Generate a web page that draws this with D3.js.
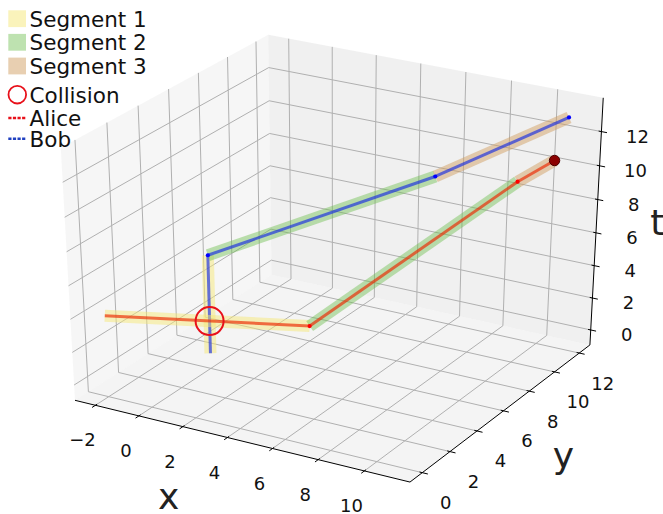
<!DOCTYPE html>
<html><head><meta charset="utf-8">
<script src="https://cdn.jsdelivr.net/npm/d3@7"></script>
<style>body{margin:0;background:#fff} svg{display:block}</style>
</head><body>
<svg id="chart" width="663" height="514"></svg>
<script>
// ---------------- data ----------------
const aliceX = [-2, 2, 10, 11];
const aliceY = [0, 8, 10, 11];
const aliceT = [4, 0, 10, 11];
const bobX = [0, 0, 7, 11];
const bobY = [4, 4, 9, 12];
const bobT = [0, 6, 10, 13];
const collisionX = [0];
const collisionY = [4];
const collisionT = [2];
const segmentNames = ["Segment 1", "Segment 2", "Segment 3"];
const segmentColors = ["rgba(245,232,120,0.5)", "rgba(110,190,80,0.45)", "rgba(210,160,100,0.5)"];
const xTicks = [-2, 0, 2, 4, 6, 8, 10];
const yTicks = [0, 2, 4, 6, 8, 10, 12];
const tTicks = [0, 2, 4, 6, 8, 10, 12];

// ---------------- scales ----------------
function lim(arr) { const [a, b] = d3.extent(arr); const m = (b - a) * 0.05; return [a - m, b + m]; }
const xLim = lim(aliceX.concat(bobX, collisionX));
const yLim = lim(aliceY.concat(bobY, collisionY));
const tLim = lim(aliceT.concat(bobT, collisionT));
const nx = d3.scaleLinear().domain(xLim).range([0, 1]);
const ny = d3.scaleLinear().domain(yLim).range([0, 1]);
const nt = d3.scaleLinear().domain(tLim).range([0, 1]);
const P0 = -1 / 48, P1 = 1 + 1 / 48;   // pane edges

const elev = 30, azim = -60, dist = 10;
const sx = d3.scaleLinear().domain([-0.095, 0.09]).range([-16.04, 670.68]);
const sy = d3.scaleLinear().domain([-0.095, 0.09]).range([513.46, 1.38]);

function dot3(a, b) { return a[0] * b[0] + a[1] * b[1] + a[2] * b[2]; }
function cross(a, b) { return [a[1] * b[2] - a[2] * b[1], a[2] * b[0] - a[0] * b[2], a[0] * b[1] - a[1] * b[0]]; }
function unit(a) { const l = Math.hypot(a[0], a[1], a[2]); return a.map(d => d / l); }
const er = elev * Math.PI / 180, ar = azim * Math.PI / 180;
const ps = [Math.cos(er) * Math.cos(ar), Math.cos(er) * Math.sin(ar), Math.sin(er)];
const Rc = [0.5, 0.5, 0.5];
const E = Rc.map((r, i) => r + dist * ps[i]);
const wv = unit(E.map((e, i) => e - Rc[i]));
const uv = unit(cross([0, 0, 1], wv));
const vv = cross(wv, uv);
function projN(P) {
  const d = P.map((p, i) => p - E[i]);
  const z = -dot3(wv, d);
  return [sx(dot3(uv, d) / z), sy(dot3(vv, d) / z)];
}
function proj(x, y, t) { return projN([nx(x), ny(y), nt(t)]); }

const svg = d3.select("#chart");
const line = d3.line();

// ---------------- panes ----------------
const panes = [
  { pts: [[P0, P0, P0], [P0, P1, P0], [P0, P1, P1], [P0, P0, P1]], fill: "rgba(238,238,238,0.55)" },
  { pts: [[P0, P1, P0], [P1, P1, P0], [P1, P1, P1], [P0, P1, P1]], fill: "rgba(228,228,228,0.55)" },
  { pts: [[P0, P0, P0], [P1, P0, P0], [P1, P1, P0], [P0, P1, P0]], fill: "rgba(234,234,234,0.5)" }
];
svg.append("g").selectAll("path").data(panes).join("path")
  .attr("d", d => line(d.pts.map(projN)) + "Z")
  .attr("fill", d => d.fill).attr("stroke", "none");

// ---------------- grid ----------------
const grid = [];
xTicks.forEach(x => { const a = nx(x); grid.push([[a, P0, P0], [a, P1, P0]], [[a, P1, P0], [a, P1, P1]]); });
yTicks.forEach(y => { const b = ny(y); grid.push([[P0, b, P0], [P1, b, P0]], [[P0, b, P0], [P0, b, P1]]); });
tTicks.forEach(t => { const c = nt(t); grid.push([[P0, P0, c], [P0, P1, c]], [[P0, P1, c], [P1, P1, c]]); });
svg.append("g").selectAll("path").data(grid).join("path")
  .attr("d", d => line(d.map(projN)))
  .attr("stroke", "#b0b0b0").attr("stroke-width", 1).attr("fill", "none");

// ---------------- axis lines & ticks ----------------
const axisLines = [
  [[P0, P0, P0], [P1, P0, P0]],
  [[P1, P0, P0], [P1, P1, P0]],
  [[P1, P1, P0], [P1, P1, P1]]
];
svg.append("g").selectAll("path").data(axisLines).join("path")
  .attr("d", d => line(d.map(projN)))
  .attr("stroke", "#000").attr("stroke-width", 1).attr("fill", "none");

const tin = 0.1 / 12, tout = 0.2 / 12;
const tickSegs = [];
xTicks.forEach(x => { const a = nx(x); tickSegs.push([[a, P0 + tin, P0], [a, P0 - tout, P0]]); });
yTicks.forEach(y => { const b = ny(y); tickSegs.push([[P1 - tin, b, P0], [P1 + tout, b, P0]]); });
tTicks.forEach(t => { const c = nt(t); tickSegs.push([[P1 - tin, P1, c], [P1 + tout, P1, c]]); });
svg.append("g").selectAll("path").data(tickSegs).join("path")
  .attr("d", d => line(d.map(projN)))
  .attr("stroke", "#000").attr("stroke-width", 1).attr("fill", "none");

const fmt = v => (v < 0 ? "\u2212" + Math.abs(v) : String(v));
const tickLabels = [];
xTicks.forEach(x => { const p = projN([nx(x), P0, P0]); tickLabels.push({ x: p[0] - 13, y: p[1] + 34.5, s: fmt(x) }); });
yTicks.forEach(y => { const p = projN([P1, ny(y), P0]); tickLabels.push({ x: p[0] + 23.5, y: p[1] + 30, s: fmt(y) }); });
tTicks.forEach(t => { const p = projN([P1, P1, nt(t)]); tickLabels.push({ x: p[0] + 36, y: p[1] + 4.5, s: fmt(t) }); });
svg.append("g").selectAll("text").data(tickLabels).join("text")
  .attr("x", d => d.x).attr("y", d => d.y)
  .attr("text-anchor", "middle").attr("dominant-baseline", "central")
  .attr("font-family", "DejaVu Sans").attr("font-size", 18).attr("fill", "#111")
  .text(d => d.s);

// axis labels
const xm = projN([0.5, P0, P0]), ym = projN([P1, 0.5, P0]), tm = projN([P1, P1, 0.5]);
const axisLabels = [
  { x: xm[0] - 70, y: xm[1] + 68.5, s: "x" },
  { x: ym[0] + 60, y: ym[1] + 57, s: "y" },
  { x: tm[0] + 61, y: tm[1] + 10, s: "t" }
];
svg.append("g").selectAll("text").data(axisLabels).join("text")
  .attr("x", d => d.x).attr("y", d => d.y).attr("text-anchor", "middle")
  .attr("font-family", "DejaVu Sans").attr("font-size", 36).attr("fill", "#222")
  .text(d => d.s);

// ---------------- paths ----------------
function segs(X, Y, T) {
  return d3.range(X.length - 1).map(i => ({ i, a: proj(X[i], Y[i], T[i]), b: proj(X[i + 1], Y[i + 1], T[i + 1]) }));
}
const agents = [
  { name: "Bob", segs: segs(bobX, bobY, bobT), color: "rgba(25,45,225,0.66)", dot: "#0000ff" },
  { name: "Alice", segs: segs(aliceX, aliceY, aliceT), color: "rgba(235,40,0,0.66)", dot: "#ff0000" }
];
const gData = svg.append("g");
agents.forEach(ag => {
  ag.segs.forEach(s => {
    gData.append("path").attr("d", line([s.a, s.b]))
      .attr("stroke", segmentColors[s.i]).attr("stroke-width", 12).attr("fill", "none");
    gData.append("path").attr("d", line([s.a, s.b]))
      .attr("stroke", ag.color).attr("stroke-width", 3).attr("fill", "none");
  });
});
agents.forEach(ag => {
  gData.append("g").selectAll("circle").data(ag.segs).join("circle")
    .attr("cx", s => s.b[0]).attr("cy", s => s.b[1]).attr("r", 2.1).attr("fill", ag.dot);
});
// Alice end marker
const aEnd = proj(aliceX[aliceX.length - 1], aliceY[aliceY.length - 1], aliceT[aliceT.length - 1]);
gData.append("circle").attr("cx", aEnd[0]).attr("cy", aEnd[1]).attr("r", 5.2)
  .attr("fill", "#8b0000").attr("stroke", "#4a0000").attr("stroke-width", 1);
// collision
const cp = proj(collisionX[0], collisionY[0], collisionT[0]);
gData.append("circle").attr("cx", cp[0]).attr("cy", cp[1]).attr("r", 14)
  .attr("fill", "none").attr("stroke", "#e8101a").attr("stroke-width", 2);

// ---------------- legend ----------------
const lg = svg.append("g").attr("font-family", "DejaVu Sans").attr("font-size", 21.5).attr("fill", "#111");
const legendItems = [
  { label: segmentNames[0], base: 26.7, type: "patch", color: segmentColors[0] },
  { label: segmentNames[1], base: 50.3, type: "patch", color: segmentColors[1] },
  { label: segmentNames[2], base: 74, type: "patch", color: segmentColors[2] },
  { label: "Collision", base: 102.7, type: "circle", color: "#e8101a" },
  { label: "Alice", base: 126, type: "line", color: "#e8101a" },
  { label: "Bob", base: 146.7, type: "line", color: "#2040c0" }
];
legendItems.forEach(it => {
  const cy = it.base - 8;
  if (it.type === "patch") {
    lg.append("rect").attr("x", 8.3).attr("y", cy - 8.4).attr("width", 17.7).attr("height", 16.8).attr("fill", it.color);
  } else if (it.type === "circle") {
    lg.append("circle").attr("cx", 17.3).attr("cy", cy).attr("r", 8.8).attr("fill", "none")
      .attr("stroke", it.color).attr("stroke-width", 1.8);
  } else {
    lg.append("line").attr("x1", 8.3).attr("x2", 26.7).attr("y1", cy).attr("y2", cy)
      .attr("stroke", it.color).attr("stroke-width", 2.6).attr("stroke-dasharray", "3.2,1.4");
  }
  lg.append("text").attr("x", 29.5).attr("y", it.base).text(it.label);
});
</script>
</body></html>
